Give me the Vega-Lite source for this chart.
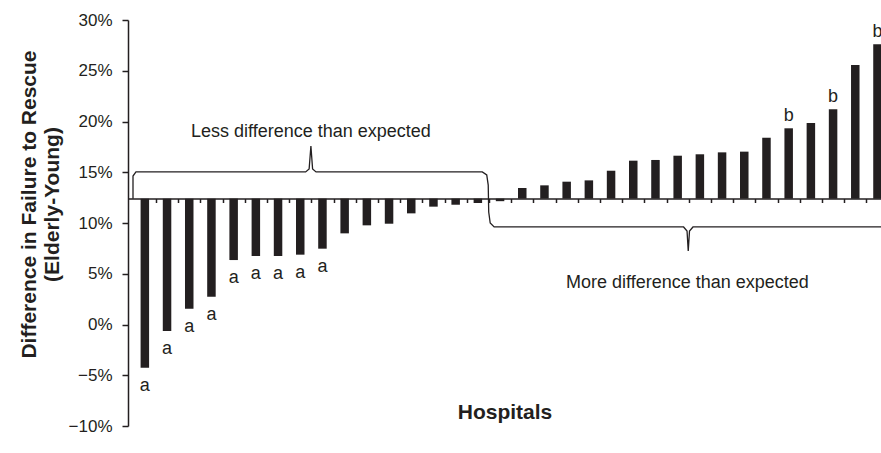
{
  "$schema": "https://vega.github.io/schema/vega-lite/v6.json",
  "width": 753,
  "height": 406,
  "autosize": "none",
  "padding": {"left": 128, "top": 20, "right": 0, "bottom": 27},
  "background": "white",
  "config": {"view": {"stroke": null}, "font": "Liberation Sans"},
  "datasets": {
    "bars": [
      {"h": 1, "v": -4.26, "label": "a"},
      {"h": 2, "v": -0.64, "label": "a"},
      {"h": 3, "v": 1.56, "label": "a"},
      {"h": 4, "v": 2.74, "label": "a"},
      {"h": 5, "v": 6.35, "label": "a"},
      {"h": 6, "v": 6.75, "label": "a"},
      {"h": 7, "v": 6.75, "label": "a"},
      {"h": 8, "v": 6.88, "label": "a"},
      {"h": 9, "v": 7.47, "label": "a"},
      {"h": 10, "v": 8.98, "label": ""},
      {"h": 11, "v": 9.77, "label": ""},
      {"h": 12, "v": 9.93, "label": ""},
      {"h": 13, "v": 10.95, "label": ""},
      {"h": 14, "v": 11.61, "label": ""},
      {"h": 15, "v": 11.8, "label": ""},
      {"h": 16, "v": 11.97, "label": ""},
      {"h": 17, "v": 12.15, "label": ""},
      {"h": 18, "v": 13.45, "label": ""},
      {"h": 19, "v": 13.71, "label": ""},
      {"h": 20, "v": 14.07, "label": ""},
      {"h": 21, "v": 14.2, "label": ""},
      {"h": 22, "v": 15.15, "label": ""},
      {"h": 23, "v": 16.14, "label": ""},
      {"h": 24, "v": 16.21, "label": ""},
      {"h": 25, "v": 16.63, "label": ""},
      {"h": 26, "v": 16.77, "label": ""},
      {"h": 27, "v": 16.96, "label": ""},
      {"h": 28, "v": 17.03, "label": ""},
      {"h": 29, "v": 18.4, "label": ""},
      {"h": 30, "v": 19.33, "label": "b"},
      {"h": 31, "v": 19.85, "label": ""},
      {"h": 32, "v": 21.2, "label": "b"},
      {"h": 33, "v": 25.57, "label": ""},
      {"h": 34, "v": 27.6, "label": "b"}
    ],
    "brace": [
      {"k": 1, "h": 0.4667, "v": 12.4},
      {"k": 2, "h": 0.4667, "v": 14.63},
      {"k": 3, "h": 0.6, "v": 15.03},
      {"k": 4, "h": 8.244, "v": 15.03},
      {"k": 5, "h": 8.4, "v": 15.32},
      {"k": 6, "h": 8.48, "v": 17.59},
      {"k": 7, "h": 8.556, "v": 15.32},
      {"k": 8, "h": 8.711, "v": 15.03},
      {"k": 9, "h": 16.2, "v": 15.03},
      {"k": 10, "h": 16.4, "v": 14.73},
      {"k": 11, "h": 16.467, "v": 13.74},
      {"k": 12, "h": 16.489, "v": 11.08},
      {"k": 13, "h": 16.556, "v": 10.0},
      {"k": 14, "h": 16.733, "v": 9.61},
      {"k": 15, "h": 25.267, "v": 9.61},
      {"k": 16, "h": 25.422, "v": 9.21},
      {"k": 17, "h": 25.476, "v": 7.24},
      {"k": 18, "h": 25.533, "v": 9.21},
      {"k": 19, "h": 25.689, "v": 9.61},
      {"k": 20, "h": 34.5, "v": 9.61}
    ],
    "notes": [
      {"h": 8.48, "v": 18.97, "t": "Less difference than expected"},
      {"h": 25.44, "v": 4.09, "t": "More difference than expected"}
    ]
  },
  "encoding": {
    "x": {
      "field": "h", "type": "quantitative",
      "scale": {"domain": [0.4667, 33.9333], "nice": false, "zero": false},
      "axis": {
        "values": [1.5, 2.5, 3.5, 4.5, 5.5, 6.5, 7.5, 8.5, 9.5, 10.5, 11.5, 12.5, 13.5, 14.5, 15.5, 16.5, 17.5, 18.5, 19.5, 20.5, 21.5, 22.5, 23.5, 24.5, 25.5, 26.5, 27.5, 28.5, 29.5, 30.5, 31.5, 32.5, 33.5],
        "labels": false, "grid": false,
        "domainColor": "#231f20", "domainWidth": 1.5,
        "tickColor": "#231f20", "tickSize": 4, "tickWidth": 1.5,
        "offset": -227.5,
        "title": "Hospitals", "titleFontSize": 21, "titleFontWeight": "bold",
        "titleColor": "#231f20", "titlePadding": 198
      }
    },
    "y": {
      "field": "v", "type": "quantitative",
      "scale": {"domain": [-10, 30], "nice": false, "zero": false},
      "axis": {
        "values": [-10, -5, 0, 5, 10, 15, 20, 25, 30],
        "labelExpr": "(datum.value < 0 ? '−' + abs(datum.value) : datum.value) + '%'",
        "labelFontSize": 17, "labelColor": "#231f20", "labelPadding": 10,
        "grid": false,
        "domainColor": "#231f20", "domainWidth": 1.5,
        "tickColor": "#231f20", "tickSize": 6, "tickWidth": 1.5,
        "title": ["Difference in Failure to Rescue", "(Elderly-Young)"],
        "titleFontSize": 21, "titleFontWeight": "bold", "titleColor": "#231f20",
        "titleLineHeight": 23, "titlePadding": 6, "titleY": 184
      }
    }
  },
  "layer": [
    {
      "data": {"name": "bars"},
      "mark": {"type": "bar", "size": 8.5, "color": "#231f20", "clip": true},
      "encoding": {"y2": {"datum": 12.4}}
    },
    {
      "data": {"name": "bars"},
      "transform": [{"filter": "datum.label == 'a'"}],
      "mark": {"type": "text", "fontSize": 18, "color": "#231f20", "baseline": "alphabetic", "dy": 23, "clip": true},
      "encoding": {"text": {"field": "label"}}
    },
    {
      "data": {"name": "bars"},
      "transform": [{"filter": "datum.label == 'b'"}],
      "mark": {"type": "text", "fontSize": 18, "color": "#231f20", "baseline": "alphabetic", "dy": -7.5, "clip": true},
      "encoding": {"text": {"field": "label"}}
    },
    {
      "data": {"name": "brace"},
      "mark": {"type": "line", "color": "#231f20", "strokeWidth": 1.3, "clip": true},
      "encoding": {"order": {"field": "k"}}
    },
    {
      "data": {"name": "notes"},
      "mark": {"type": "text", "fontSize": 18, "color": "#231f20", "baseline": "middle"},
      "encoding": {"text": {"field": "t"}}
    }
  ]
}
